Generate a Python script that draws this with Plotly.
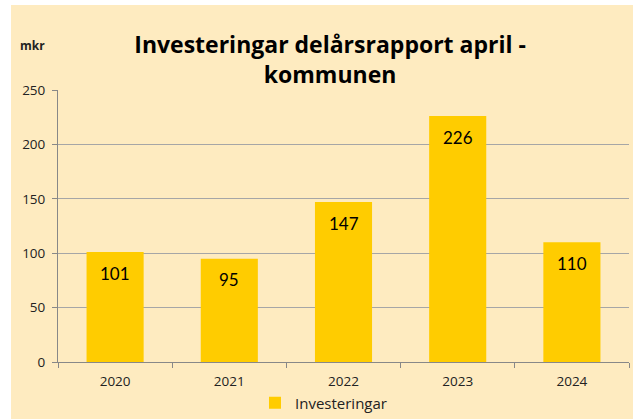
import plotly.graph_objects as go

years = ["2020", "2021", "2022", "2023", "2024"]
investeringar = [101, 95, 147, 226, 110]
series_name = "Investeringar"
title_text = "Investeringar delårsrapport april -<br>kommunen"
y_unit = "mkr"
y_ticks = [0, 50, 100, 150, 200, 250]

BG = "#FEEBC0"
BAR = "#FFCC00"
TXT = "#222222"

fig = go.Figure()
fig.add_trace(go.Bar(
    x=years, y=investeringar, name=series_name,
    marker=dict(color=BAR, line=dict(width=0)),
    width=0.5, showlegend=True,
))

annotations = [
    dict(x=i, y=v, xref="x", yref="y", text=str(v), showarrow=False,
         yshift=-21, font=dict(family="Lato, Carlito, sans-serif", size=17, color="#000000"))
    for i, v in enumerate(investeringar)
]
annotations.append(dict(
    x=-0.0455, y=1.165, xref="paper", yref="paper", text="<b>" + y_unit + "</b>",
    showarrow=False, xanchor="center", yanchor="middle",
    font=dict(family="Open Sans, sans-serif", size=12, color=TXT)))

fig.update_layout(
    width=622, height=414,
    margin=dict(l=47, r=4, t=85, b=57, autoexpand=False),
    paper_bgcolor=BG, plot_bgcolor="rgba(0,0,0,0)",
    title=dict(text="<b>" + title_text + "</b>", x=0.513, xanchor="center",
               y=0.884, yanchor="middle",
               font=dict(family="Open Sans, sans-serif", size=23, color="#000000")),
    annotations=annotations,
    bargap=0.5,
    legend=dict(orientation="h", x=0.345, xanchor="left", y=-0.151, yanchor="middle",
                font=dict(family="Open Sans, sans-serif", size=15, color=TXT),
                bgcolor="rgba(0,0,0,0)"),
    xaxis=dict(type="category", range=[-0.5, len(years) - 0.5],
               showline=True, linecolor="#888888", linewidth=1,
               ticks="outside", tickson="boundaries", ticklen=5, tickcolor="#888888",
               tickangle=0, automargin=False, ticklabelstandoff=7,
               tickfont=dict(family="Open Sans, sans-serif", size=13.5, color=TXT),
               showgrid=False),
    yaxis=dict(range=[0, 250], tickvals=y_ticks, showline=True, linecolor="#888888",
               linewidth=1, ticks="outside", ticklen=5, tickcolor="#888888",
               automargin=False, ticklabelstandoff=4,
               gridcolor="#A6A6A6", gridwidth=1, zeroline=False,
               tickfont=dict(family="Open Sans, sans-serif", size=13.5, color=TXT)),
)

fig.write_html(
    "out.html",
    config={"displayModeBar": False},
    post_script="document.body.style.margin='5px 0 0 11px';document.body.style.background='white';",
)
